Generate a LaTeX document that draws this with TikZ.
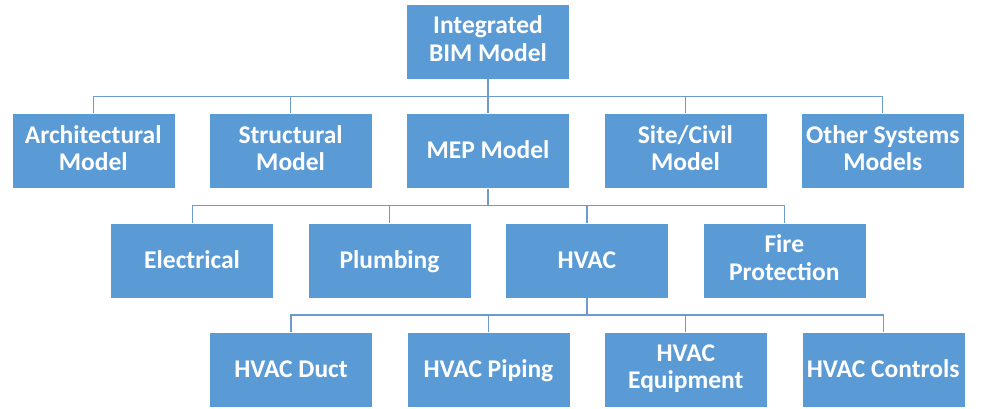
\documentclass[tikz,border=0pt]{standalone}
\usepackage{fontspec}
\setmainfont{Carlito}
\usetikzlibrary{positioning,calc}

\newcommand{\boxstrut}{\rule[-6pt]{0pt}{28pt}}

\begin{document}
\begin{tikzpicture}[
x=1pt, y=1pt,
node distance=34pt,
modelbox/.style={rectangle, draw=white, fill={rgb,255:red,91;green,155;blue,213}, thin,
  minimum width=163pt, minimum height=75pt, text=white, align=center,
  font=\bfseries\fontsize{25.5}{27.5}\selectfont, inner sep=1pt,
  execute at begin node=\boxstrut, execute at end node=\boxstrut},
busline/.style={draw={rgb,255:red,110;green,155;blue,205}, line width=1.2pt},
]
\useasboundingbox (0,0) rectangle (981,-408);

%Nodes
\node[modelbox]      (BIM)        at (488,-41.5)                {Integrated\\BIM Model};
\node[modelbox]      (MEP)        [below=of BIM]                {MEP Model};
\node[modelbox]      (Struct)     [left=of MEP]                 {Structural\\Model};
\node[modelbox]      (Arch)       [left=of Struct]              {Architectural\\Model};
\node[modelbox]      (Site)       [right=of MEP]                {Site/Civil\\Model};
\node[modelbox]      (Other)      [right=of Site]               {Other Systems\\Models};

\node[modelbox]      (Plumb)      [below=of MEP, xshift=-98.5pt] {Plumbing};
\node[modelbox]      (Elec)       [left=of Plumb]               {Electrical};
\node[modelbox]      (HVAC)       [right=of Plumb]              {HVAC};
\node[modelbox]      (Fire)       [right=of HVAC]               {Fire\\Protection};

\node[modelbox]      (Piping)     [below=of HVAC, xshift=-98.5pt] {HVAC Piping};
\node[modelbox]      (Duct)       [left=of Piping]              {HVAC Duct};
\node[modelbox]      (Equip)      [right=of Piping]             {HVAC\\Equipment};
\node[modelbox]      (Ctrl)       [right=of Equip]              {HVAC Controls};

%Bus points
\coordinate (busA) at ($(BIM.south)!0.5!(MEP.north)$);
\coordinate (busB) at ($(MEP.south)!0.5!(Plumb.north)$);
\coordinate (busC) at ($(HVAC.south)!0.5!(Piping.north)$);

%Lines
\draw[busline] (BIM.south) -- (MEP.north);
\draw[busline] (Arch.north) |- (busA) -| (Other.north);
\draw[busline] (Struct.north) -- (Struct.north |- busA);
\draw[busline] (Site.north) -- (Site.north |- busA);

\draw[busline] (MEP.south) -- (MEP.south |- busB);
\draw[busline] (Elec.north) |- (busB) -| (Fire.north);
\draw[busline] (Plumb.north) -- (Plumb.north |- busB);
\draw[busline] (HVAC.north) -- (HVAC.north |- busB);

\draw[busline] (HVAC.south) -- (HVAC.south |- busC);
\draw[busline] (Duct.north) |- (busC) -| (Ctrl.north);
\draw[busline] (Piping.north) -- (Piping.north |- busC);
\draw[busline] (Equip.north) -- (Equip.north |- busC);
\end{tikzpicture}
\end{document}
